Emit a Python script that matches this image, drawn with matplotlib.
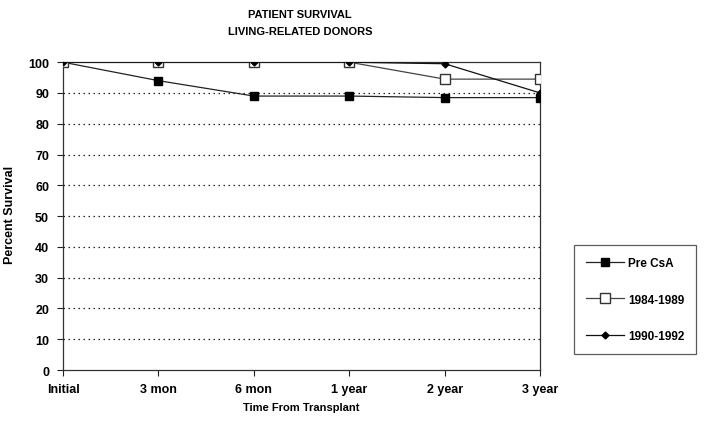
import matplotlib
matplotlib.use("Agg")
import matplotlib.pyplot as plt

categories = ["Initial", "3 mon", "6 mon", "1 year", "2 year", "3 year"]
pre_csa = [100, 94, 89, 89, 88.5, 88.5]
era_84_89 = [100, 100, 100, 100, 94.5, 94.5]
era_90_92 = [100, 100, 100, 100, 99.5, 90]
y_ticks = [0, 10, 20, 30, 40, 50, 60, 70, 80, 90, 100]

plt.rcParams['font.family'] = ['Liberation Sans', 'DejaVu Sans']

fig = plt.figure(figsize=(7.08, 4.27), dpi=100)
ax = fig.add_axes([0.089, 0.131, 0.674, 0.721])

x = list(range(len(categories)))

# dotted horizontal grid
for v in y_ticks[1:-1]:
    ax.axhline(v, color="#222222", linestyle=(0, (1.2, 2.8)), linewidth=0.9, zorder=1)

ax.plot(x, pre_csa, color="#222222", linewidth=0.9, marker="s", markersize=6,
        markerfacecolor="black", markeredgecolor="black", label="Pre CsA", zorder=3)
ax.plot(x, era_84_89, color="#444444", linewidth=0.9, marker="s", markersize=7,
        markerfacecolor="white", markeredgecolor="#333333", label="1984-1989", zorder=3)
ax.plot(x, era_90_92, color="#111111", linewidth=0.9, marker="D", markersize=3.5,
        markerfacecolor="black", markeredgecolor="black", label="1990-1992", zorder=4)

ax.set_xlim(0, 5)
ax.set_ylim(0, 100)
ax.set_xticks(x)
ax.set_xticklabels(categories, fontsize=9, fontweight="bold")
ax.set_yticks(y_ticks)
ax.set_yticklabels([str(v) for v in y_ticks], fontsize=9, fontweight="bold")
ax.tick_params(axis="both", direction="out", length=4, width=0.8, color="#222222", pad=6)
ax.tick_params(axis="x", pad=5)

for s in ax.spines.values():
    s.set_color("#333333")
    s.set_linewidth(0.9)

ax.set_xlabel("Time From Transplant", fontsize=8, fontweight="bold", labelpad=5)
fig.text(0.014, 0.497, "Percent Survival", rotation=90, fontsize=9, fontweight="bold",
         ha="center", va="center")

fig.text(0.424, 0.965, "PATIENT SURVIVAL", fontsize=8, fontweight="bold", ha="center", va="center")
fig.text(0.424, 0.925, "LIVING-RELATED DONORS", fontsize=8, fontweight="bold", ha="center", va="center")

leg = fig.legend(loc="upper left", bbox_to_anchor=(574 / 708, 1 - 246 / 427),
                 frameon=True, fancybox=False, borderpad=1.0, borderaxespad=0,
                 labelspacing=2.1, handlelength=3.2, handletextpad=0.4,
                 prop={"weight": "bold", "size": 8.5})
leg.get_frame().set_edgecolor("#333333")
leg.get_frame().set_linewidth(0.9)

fig.savefig("out.png", dpi=100)
